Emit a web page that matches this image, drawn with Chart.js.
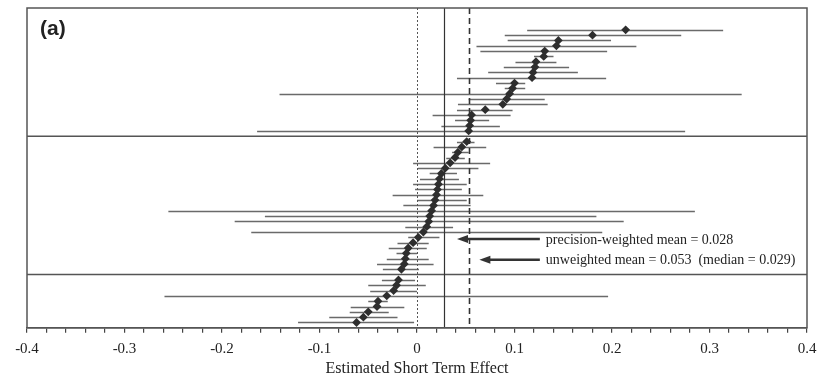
<!DOCTYPE html>
<html>
<head>
<meta charset="utf-8">
<script src="https://cdn.jsdelivr.net/npm/chart.js@4.4.1/dist/chart.umd.min.js"></script>
<style>
  html, body { margin: 0; padding: 0; background: #fff; }
  #wrap { width: 818px; height: 379px; }
</style>
</head>
<body>
<div id="wrap"><canvas id="c" width="818" height="379"></canvas></div>
<script>
// one entry per row, top to bottom; null rows are where the group separators sit
const estimates = [
  0.214, 0.180, 0.145, 0.143, 0.131, 0.130, 0.122, 0.121, 0.119, 0.118,
  0.100, 0.098, 0.095, 0.092, 0.088, 0.070, 0.056, 0.055, 0.054, 0.053,
  null,
  0.051, 0.046, 0.042, 0.039, 0.034, 0.029, 0.025, 0.023, 0.022, 0.021,
  0.020, 0.0185, 0.017, 0.015, 0.013, 0.012, 0.010, 0.0065, 0.0013, -0.004,
  -0.009, -0.011, -0.012, -0.013, -0.016,
  null,
  -0.019, -0.021, -0.024, -0.031, -0.040, -0.041, -0.050, -0.055, -0.062
];
const lowerBounds = [
  0.113, 0.090, 0.093, 0.061, 0.065, 0.120, 0.101, 0.089, 0.073, 0.041,
  0.081, 0.090, -0.141, 0.053, 0.042, 0.041, 0.016, 0.039, 0.025, -0.164,
  null,
  0.041, 0.017, 0.036, 0.030, -0.004, 0.001, 0.013, 0.003, -0.004, -0.002,
  -0.025, 0.000, -0.014, -0.255, -0.156, -0.187, -0.012, -0.170, -0.009, -0.020,
  -0.029, -0.021, -0.031, -0.041, -0.035,
  null,
  -0.036, -0.050, -0.048, -0.259, -0.050, -0.068, -0.069, -0.090, -0.122
];
const upperBounds = [
  0.314, 0.271, 0.199, 0.225, 0.195, 0.140, 0.143, 0.156, 0.165, 0.194,
  0.111, 0.111, 0.333, 0.131, 0.134, 0.098, 0.096, 0.074, 0.085, 0.275,
  null,
  0.059, 0.071, 0.053, 0.049, 0.075, 0.063, 0.041, 0.043, 0.051, 0.046,
  0.068, 0.051, 0.055, 0.285, 0.184, 0.212, 0.037, 0.190, 0.023, 0.012,
  0.010, 0.000, 0.012, 0.017, 0.002,
  null,
  -0.002, 0.009, 0.000, 0.196, -0.030, -0.013, -0.029, -0.020, -0.003
];
const separatorRows = [20, 46];

const zeroLine = 0;
const weightedMean = 0.028;
const unweightedMean = 0.053;

const annotations = [
  { text: 'precision-weighted mean = 0.028', row: 39.3, from: 0.126, to: 0.041 },
  { text: 'unweighted mean = 0.053  (median = 0.029)', row: 43.2, from: 0.126, to: 0.064 }
];

const xMin = -0.4, xMax = 0.4, xStep = 0.02;
const xTitle = 'Estimated Short Term Effect';
const panelLabel = '(a)';

const SERIF = '"Liberation Serif", "DejaVu Serif", serif';

const points = [];
estimates.forEach((v, i) => { if (v !== null) points.push({ x: v, y: i }); });

const frameAndLines = {
  id: 'frameAndLines',
  beforeDatasetsDraw(chart) {
    const { ctx, chartArea: a, scales: { x, y } } = chart;
    ctx.save();
    ctx.beginPath();
    ctx.rect(a.left, a.top, a.right - a.left, a.bottom - a.top);
    ctx.clip();

    // error bars
    ctx.strokeStyle = '#6a6a6a';
    ctx.lineWidth = 1.6;
    estimates.forEach((v, i) => {
      if (v === null) return;
      const py = Math.round(y.getPixelForValue(i)) + 0.5;
      ctx.beginPath();
      ctx.moveTo(x.getPixelForValue(lowerBounds[i]), py);
      ctx.lineTo(x.getPixelForValue(upperBounds[i]), py);
      ctx.stroke();
    });

    // separators
    ctx.strokeStyle = '#555';
    ctx.lineWidth = 1.5;
    separatorRows.forEach((r) => {
      const py = y.getPixelForValue(r);
      ctx.beginPath();
      ctx.moveTo(a.left, py);
      ctx.lineTo(a.right, py);
      ctx.stroke();
    });

    // reference lines
    const vline = (val, dash, w, col) => {
      const px = Math.round(x.getPixelForValue(val)) + 0.5;
      ctx.setLineDash(dash);
      ctx.lineWidth = w;
      ctx.strokeStyle = col;
      ctx.beginPath();
      ctx.moveTo(px, a.top);
      ctx.lineTo(px, a.bottom);
      ctx.stroke();
    };
    vline(zeroLine, [2, 2], 1, '#555');
    vline(weightedMean, [], 1.2, '#333');
    vline(unweightedMean, [6, 4], 1.6, '#333');
    ctx.setLineDash([]);
    ctx.restore();
  },
  afterDatasetsDraw(chart) {
    const { ctx, chartArea: a, scales: { x, y } } = chart;
    ctx.save();
    // arrows + text
    ctx.strokeStyle = '#333';
    ctx.fillStyle = '#333';
    ctx.lineWidth = 2.5;
    ctx.font = '14px ' + SERIF;
    ctx.textBaseline = 'middle';
    annotations.forEach((an) => {
      const py = y.getPixelForValue(an.row);
      const x0 = x.getPixelForValue(an.from);
      const x1 = x.getPixelForValue(an.to);
      ctx.beginPath();
      ctx.moveTo(x0, py);
      ctx.lineTo(x1 + 8, py);
      ctx.stroke();
      ctx.beginPath();
      ctx.moveTo(x1, py);
      ctx.lineTo(x1 + 11, py - 4);
      ctx.lineTo(x1 + 11, py + 4);
      ctx.closePath();
      ctx.fill();
      ctx.fillStyle = '#222';
      ctx.fillText(an.text, x0 + 6, py + 1);
      ctx.fillStyle = '#333';
    });

    // frame
    ctx.strokeStyle = '#555';
    ctx.lineWidth = 1.5;
    ctx.strokeRect(a.left, a.top, a.right - a.left, a.bottom - a.top);

    // panel label
    ctx.fillStyle = '#222';
    ctx.font = 'bold 21px "Liberation Sans", Arial, sans-serif';
    ctx.textBaseline = 'alphabetic';
    ctx.fillText(panelLabel, a.left + 13, a.top + 27);
    ctx.restore();
  }
};

new Chart(document.getElementById('c'), {
  type: 'scatter',
  data: {
    datasets: [{
      data: points,
      pointStyle: 'rectRot',
      pointRadius: 4.4,
      backgroundColor: '#2e2e2e',
      borderColor: '#2e2e2e',
      borderWidth: 0
    }]
  },
  options: {
    responsive: false,
    animation: false,
    devicePixelRatio: 1,
    layout: { padding: { left: 27, right: 11, top: 8, bottom: 1 } },
    plugins: { legend: { display: false }, tooltip: { enabled: false } },
    scales: {
      x: {
        type: 'linear',
        min: xMin,
        max: xMax,
        afterFit: (scale) => {
          scale.height -= 6;
          scale.paddingLeft = 0;
          scale.paddingRight = 0;
        },
        grid: { display: true, drawOnChartArea: false, drawTicks: true, tickLength: 5, color: '#444', lineWidth: 1.2 },
        border: { display: true, color: '#555', width: 1.5 },
        ticks: {
          stepSize: xStep,
          autoSkip: false,
          maxRotation: 0,
          color: '#222',
          padding: 7,
          font: { family: SERIF, size: 15 },
          callback: (v) => {
            const h = Math.round(v * 100);
            if (h % 10 !== 0) return '';
            return h === 0 ? '0' : (h / 100).toFixed(1);
          }
        },
        title: {
          display: true,
          text: xTitle,
          color: '#222',
          font: { family: SERIF, size: 16 },
          padding: { top: 0, bottom: 0 }
        }
      },
      y: {
        type: 'linear',
        reverse: true,
        min: -4.1,
        max: 56,
        display: false
      }
    }
  },
  plugins: [frameAndLines]
});
</script>
</body>
</html>
